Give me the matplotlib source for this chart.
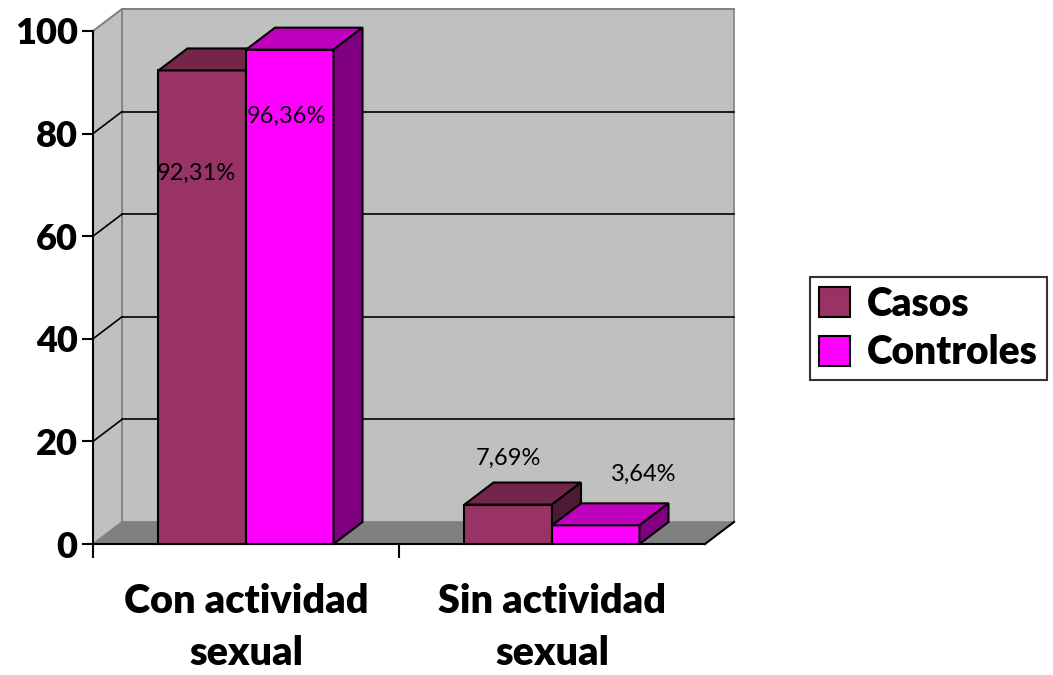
import numpy as np
import matplotlib
matplotlib.use('Agg')
import matplotlib.pyplot as plt
from matplotlib.patches import Polygon, Rectangle

# Data
categories = ['Con actividad\nsexual', 'Sin actividad\nsexual']
series_names = ['Casos', 'Controles']
casos = [92.31, 7.69]
controles = [96.36, 3.64]
yticks = [0, 20, 40, 60, 80, 100]

# Colours (front, top, side) per series
colors = {
    'Casos': ('#993366', '#732649', '#4d1a33'),
    'Controles': ('#ff00ff', '#bf00bf', '#800080'),
}
# text placement relative to bar (x in category units, y in value units), per series/category
label_dx = [[-0.02, 0.0], [-0.01, 0.157]]
label_dy = [[-20, 9], [-13, 10]]

plt.rcParams['font.family'] = ['Lato', 'DejaVu Sans']

W, H = 1053, 675
fig = plt.figure(figsize=(W / 100, H / 100), dpi=100)
# front plane of the chart in pixels
left_px, right_px, zero_px, top_px = 93, 705, 544, 31
ax = fig.add_axes([left_px / W, (H - zero_px) / H, (right_px - left_px) / W, (zero_px - top_px) / H])
ax.set_xlim(0, 2)
ax.set_ylim(0, 100)

# depth offset in data units
dx = 29 / (right_px - left_px) * 2
dy = 22 / (zero_px - top_px) * 100

wall_col = '#c0c0c0'
floor_col = '#808080'
edge_gray = '#808080'

# back wall
ax.add_patch(Polygon([(dx, dy), (2 + dx, dy), (2 + dx, 100 + dy), (dx, 100 + dy)],
                     closed=True, facecolor=wall_col, edgecolor=edge_gray, lw=1.2, clip_on=False, zorder=1))
# left side wall
ax.add_patch(Polygon([(0, 0), (dx, dy), (dx, 100 + dy), (0, 100)],
                     closed=True, facecolor=wall_col, edgecolor=edge_gray, lw=1.2, clip_on=False, zorder=1))
# floor
ax.add_patch(Polygon([(0, 0), (2, 0), (2 + dx, dy), (dx, dy)],
                     closed=True, facecolor=floor_col, edgecolor='none', clip_on=False, zorder=1))
ax.plot([2, 2 + dx], [0, dy], color='black', lw=1.5, clip_on=False, zorder=2)

# gridlines on back wall + side wall
for v in yticks[1:]:
    c = 'black' if v < 100 else edge_gray
    ax.plot([dx, 2 + dx], [v + dy, v + dy], color=c, lw=1.2, clip_on=False, zorder=2)
    ax.plot([0, dx], [v, v + dy], color=c, lw=1.2, clip_on=False, zorder=2)

# bars
bw = 0.286
for s, (name, vals) in enumerate(zip(series_names, [casos, controles])):
    front, top, side = colors[name]
    for i, v in enumerate(vals):
        x0 = i + 0.5 - bw + s * bw
        x1 = x0 + bw
        kw = dict(closed=True, edgecolor='black', lw=1.5, clip_on=False, zorder=3 + s)
        ax.add_patch(Polygon([(x0, 0), (x1, 0), (x1, v), (x0, v)], facecolor=front, **kw))
        ax.add_patch(Polygon([(x0, v), (x1, v), (x1 + dx, v + dy), (x0 + dx, v + dy)], facecolor=top, **kw))
        ax.add_patch(Polygon([(x1, 0), (x1 + dx, dy), (x1 + dx, v + dy), (x1, v)], facecolor=side, **kw))
        ax.text((x0 + x1) / 2 + label_dx[s][i], v + label_dy[s][i], f'{v:.2f}%'.replace('.', ','),
                ha='center', va='center', fontsize=17, color='black', zorder=10, clip_on=False)

# axes styling
for sp in ['top', 'right']:
    ax.spines[sp].set_visible(False)
ax.spines['left'].set_linewidth(1.5)
ax.spines['bottom'].set_linewidth(1.5)
ax.spines['left'].set_zorder(5)
ax.spines['bottom'].set_zorder(5)
ax.set_yticks(yticks)
ax.set_yticklabels([str(t) for t in yticks], fontsize=26, fontweight='heavy')
ax.tick_params(axis='y', length=8, width=1.5, pad=3)
ax.set_xticks([0, 1])
ax.set_xticklabels(['', ''])
ax.tick_params(axis='x', which='major', length=10, width=1.5, direction='out')
ax.set_xticks([0.5, 1.5], minor=True)
ax.set_xticklabels(categories, minor=True, fontsize=28.5, fontweight='heavy', linespacing=1.5)
ax.tick_params(axis='x', which='minor', length=0, pad=28)
ax.set_facecolor('none')

# legend
handles = [Rectangle((0, 0), 1, 1, facecolor=colors[n][0], edgecolor='black', lw=1.5) for n in series_names]
leg = fig.legend(handles, series_names, loc='upper left', bbox_to_anchor=(810 / W, 1 - 277 / H),
                 prop={'size': 28, 'weight': 'heavy'}, frameon=True, fancybox=False,
                 edgecolor='black', handlelength=0.8, handleheight=0.8, handletextpad=0.45,
                 borderpad=0.22, labelspacing=0.3, borderaxespad=0)
leg.get_frame().set_linewidth(1.5)

fig.savefig('out.png', dpi=100)
